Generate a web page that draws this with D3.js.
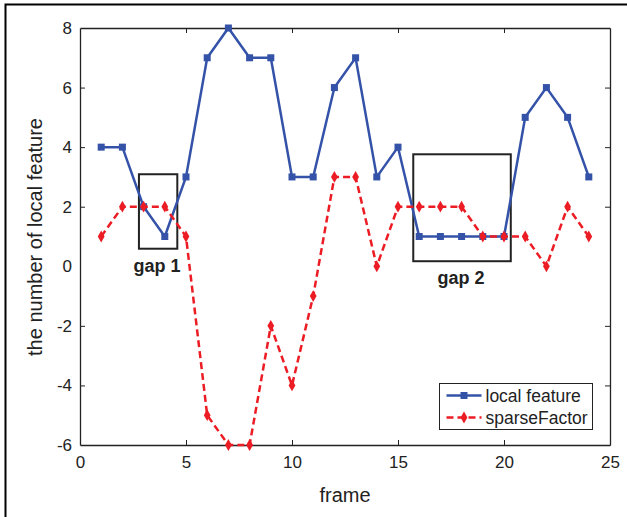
<!DOCTYPE html>
<html>
<head>
<meta charset="utf-8">
<script src="https://cdn.jsdelivr.net/npm/d3@7"></script>
<style>
  body { margin: 0; background: #fff; }
  svg { display: block; font-family: "Liberation Sans", Arial, sans-serif; }
</style>
</head>
<body>
<div id="chart"></div>
<script>
const frames = d3.range(1, 25);
const localFeature = [4, 4, 2, 1, 3, 7, 8, 7, 7, 3, 3, 6, 7, 3, 4, 1, 1, 1, 1, 1, 5, 6, 5, 3];
const sparseFactor = [1, 2, 2, 2, 1, -5, -6, -6, -2, -4, -1, 3, 3, 0, 2, 2, 2, 2, 1, 1, 1, 0, 2, 1];
const xTicks = [0, 5, 10, 15, 20, 25];
const yTicks = [-6, -4, -2, 0, 2, 4, 6, 8];
const gapBoxes = [
    { label: 'gap 1', x0: 2.78, x1: 4.59, y0: 0.59, y1: 3.09 },
    { label: 'gap 2', x0: 15.72, x1: 20.32, y0: 0.17, y1: 3.76 }
];

const width = 627, height = 517;
const margin = { left: 80, right: 17, top: 28, bottom: 72 };
const chartWidth = width - margin.left - margin.right;
const chartHeight = height - margin.top - margin.bottom;

const svg = d3.select('#chart').append('svg')
    .attr('width', width)
    .attr('height', height);

// figure frame (top and left edges visible)
svg.append('path')
    .attr('d', `M5.5,${height} V4.5 H${width}`)
    .attr('fill', 'none')
    .attr('stroke', '#000')
    .attr('stroke-width', 2);

const g = svg.append('g')
    .attr('transform', `translate(${margin.left},${margin.top})`);

const x = d3.scaleLinear().domain([0, 25]).range([0, chartWidth]);
const y = d3.scaleLinear().domain([-6, 8]).range([chartHeight, 0]);

// axes, MATLAB-style box with inward ticks
const tickLen = 5;
const fmt = d => String(d);
g.append('g')
    .attr('transform', `translate(0,${chartHeight})`)
    .call(d3.axisBottom(x).tickValues(xTicks).tickSize(-tickLen).tickPadding(11).tickSizeOuter(0).tickFormat(fmt))
    .call(a => a.selectAll('text').style('font-size', '17px').attr('fill', '#222'));
g.append('g')
    .call(d3.axisTop(x).tickValues(xTicks).tickSize(-tickLen).tickSizeOuter(0).tickFormat(''));
g.append('g')
    .call(d3.axisLeft(y).tickValues(yTicks).tickSize(-tickLen).tickPadding(8).tickSizeOuter(0).tickFormat(fmt))
    .call(a => a.selectAll('text').style('font-size', '17px').attr('fill', '#222'));
g.append('g')
    .attr('transform', `translate(${chartWidth},0)`)
    .call(d3.axisRight(y).tickValues(yTicks).tickSize(-tickLen).tickSizeOuter(0).tickFormat(''));
g.selectAll('.domain').attr('stroke', '#222').attr('stroke-width', 1.3);
g.selectAll('.tick line').attr('stroke', '#222').attr('stroke-width', 1);
g.selectAll('.tick').filter(d => d === 0 || d === 25 || d === -6 || d === 8).select('line').remove();

// axis titles
svg.append('text')
    .attr('x', margin.left + chartWidth / 2)
    .attr('y', 502)
    .attr('text-anchor', 'middle')
    .style('font-size', '20px')
    .attr('fill', '#222')
    .text('frame');
svg.append('text')
    .attr('transform', `translate(42,237) rotate(-90)`)
    .attr('text-anchor', 'middle')
    .style('font-size', '20px')
    .attr('fill', '#222')
    .text('the number of local feature');

const blue = '#3352a8';
const red = '#ec1c24';

const lineGen = d3.line().x(d => x(d[0])).y(d => y(d[1]));
const blueData = frames.map((f, i) => [f, localFeature[i]]);
const redData = frames.map((f, i) => [f, sparseFactor[i]]);

// gap boxes
g.selectAll('.gap')
    .data(gapBoxes)
    .enter().append('rect')
    .attr('x', d => x(d.x0))
    .attr('y', d => y(d.y1))
    .attr('width', d => x(d.x1) - x(d.x0))
    .attr('height', d => y(d.y0) - y(d.y1))
    .attr('fill', 'none')
    .attr('stroke', '#222')
    .attr('stroke-width', 2);

g.append('path')
    .datum(blueData)
    .attr('fill', 'none')
    .attr('stroke', blue)
    .attr('stroke-width', 2.5)
    .attr('d', lineGen);
g.selectAll('.sq')
    .data(blueData)
    .enter().append('rect')
    .attr('x', d => x(d[0]) - 3.5)
    .attr('y', d => y(d[1]) - 3.5)
    .attr('width', 7)
    .attr('height', 7)
    .attr('fill', blue);

g.append('path')
    .datum(redData)
    .attr('fill', 'none')
    .attr('stroke', red)
    .attr('stroke-width', 2.5)
    .attr('stroke-dasharray', '7,4')
    .attr('d', lineGen);
const diamond = d3.symbol().type(d3.symbolDiamond).size(40);
g.selectAll('.dm')
    .data(redData)
    .enter().append('path')
    .attr('transform', d => `translate(${x(d[0])},${y(d[1])})`)
    .attr('d', diamond)
    .attr('fill', red);

// gap labels
g.selectAll('.gaplabel')
    .data(gapBoxes)
    .enter().append('text')
    .attr('x', d => x((d.x0 + d.x1) / 2) - 1)
    .attr('y', d => y(d.y0) + 23)
    .attr('text-anchor', 'middle')
    .style('font-size', '18px')
    .style('font-weight', 'bold')
    .attr('fill', '#222')
    .text(d => d.label);

// legend
const legend = svg.append('g').attr('transform', 'translate(439.5,383.5)');
legend.append('rect')
    .attr('width', 153)
    .attr('height', 46)
    .attr('fill', '#fff')
    .attr('stroke', '#222')
    .attr('stroke-width', 1);
const items = [
    { name: 'local feature', color: blue, dash: null, marker: 'sq' },
    { name: 'sparseFactor', color: red, dash: '7,4', marker: 'dm' }
];
items.forEach((it, i) => {
    const row = legend.append('g').attr('transform', `translate(0,${12 + i * 22})`);
    row.append('line')
        .attr('x1', 7).attr('x2', 42)
        .attr('stroke', it.color)
        .attr('stroke-width', 2.5)
        .attr('stroke-dasharray', it.dash);
    if (it.marker === 'sq') {
        row.append('rect').attr('x', 21).attr('y', -3.5).attr('width', 7).attr('height', 7).attr('fill', it.color);
    } else {
        row.append('path').attr('transform', 'translate(24.5,0)').attr('d', diamond).attr('fill', it.color);
    }
    row.append('text')
        .attr('x', 46)
        .attr('y', 6)
        .style('font-size', '17.5px')
        .attr('fill', '#222')
        .text(it.name);
});
</script>
</body>
</html>
